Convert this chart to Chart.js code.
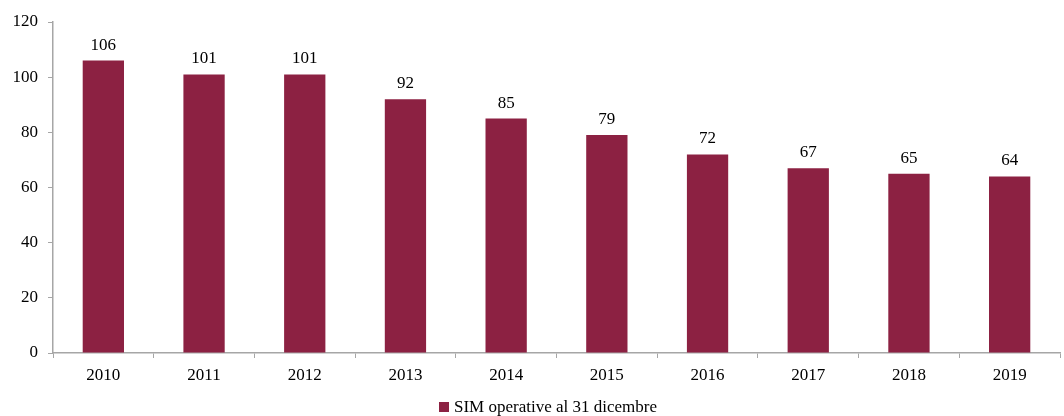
<!DOCTYPE html>
<html>
<head>
<meta charset="utf-8">
<script src="https://cdn.jsdelivr.net/npm/chart.js@4"></script>
<style>
  html, body { margin: 0; padding: 0; background: #fff; }
  #wrap { width: 1064px; height: 416px; }
</style>
</head>
<body>
<div id="wrap"><canvas id="grafico"></canvas></div>
<script>
// Anni e numero di SIM operative
const anni = ['2010', '2011', '2012', '2013', '2014', '2015', '2016', '2017', '2018', '2019'];
const simOperative = [106, 101, 101, 92, 85, 79, 72, 67, 65, 64];
const tickY = [0, 20, 40, 60, 80, 100, 120];

const colore = '#8c2142';
const fontSerif = "'Liberation Serif', 'Times New Roman', serif";
const fontTesto = '17px ' + fontSerif;

// Etichette con il valore sopra ogni barra
const etichette = {
    id: 'etichette',
    afterDatasetsDraw(chart) {
        const ctx = chart.ctx;
        const meta = chart.getDatasetMeta(0);
        ctx.save();
        ctx.font = fontTesto;
        ctx.fillStyle = '#000';
        ctx.textAlign = 'center';
        ctx.textBaseline = 'bottom';
        meta.data.forEach((barra, i) => {
            ctx.fillText(simOperative[i], barra.x, barra.y - 7);
        });
        ctx.restore();
    }
};

// Legenda sotto al grafico, un po' spostata a destra del centro
const legenda = {
    id: 'legenda',
    afterDraw(chart) {
        const ctx = chart.ctx;
        const testo = chart.data.datasets[0].label;
        ctx.save();
        ctx.font = fontTesto;
        const larghezza = 10 + 5 + ctx.measureText(testo).width;
        const x0 = chart.width / 2 + 16 - larghezza / 2;
        const yc = chart.height - 9;
        ctx.fillStyle = colore;
        ctx.fillRect(x0, yc - 5, 10, 10);
        ctx.fillStyle = '#000';
        ctx.textAlign = 'left';
        ctx.textBaseline = 'middle';
        ctx.fillText(testo, x0 + 15, yc + 1);
        ctx.restore();
    }
};

const ctx = document.getElementById('grafico').getContext('2d');
new Chart(ctx, {
    type: 'bar',
    data: {
        labels: anni,
        datasets: [{
            label: 'SIM operative al 31 dicembre',
            data: simOperative,
            backgroundColor: colore,
            borderWidth: 0,
            categoryPercentage: 0.41,
            barPercentage: 1
        }]
    },
    options: {
        responsive: true,
        maintainAspectRatio: false,
        animation: false,
        layout: { padding: { top: 22, right: 4, left: 0, bottom: 0 } },
        plugins: {
            legend: { display: false },
            tooltip: { enabled: false }
        },
        scales: {
            x: {
                grid: {
                    offset: true,
                    drawOnChartArea: false,
                    tickLength: 5,
                    color: '#a6a6a6'
                },
                border: { color: '#a6a6a6', width: 1.5 },
                ticks: {
                    color: '#000',
                    font: { family: fontSerif, size: 17 },
                    padding: 7,
                    maxRotation: 0
                },
                afterFit(scale) { scale.height = 63; }
            },
            y: {
                min: 0,
                max: 120,
                afterBuildTicks(scale) { scale.ticks = tickY.map(v => ({ value: v })); },
                grid: {
                    drawOnChartArea: false,
                    tickLength: 5,
                    color: '#a6a6a6'
                },
                border: { color: '#a6a6a6', width: 1.5 },
                ticks: {
                    color: '#000',
                    font: { family: fontSerif, size: 17 },
                    padding: 10
                },
                afterFit(scale) { scale.width = 53; }
            }
        }
    },
    plugins: [etichette, legenda]
});
</script>
</body>
</html>
